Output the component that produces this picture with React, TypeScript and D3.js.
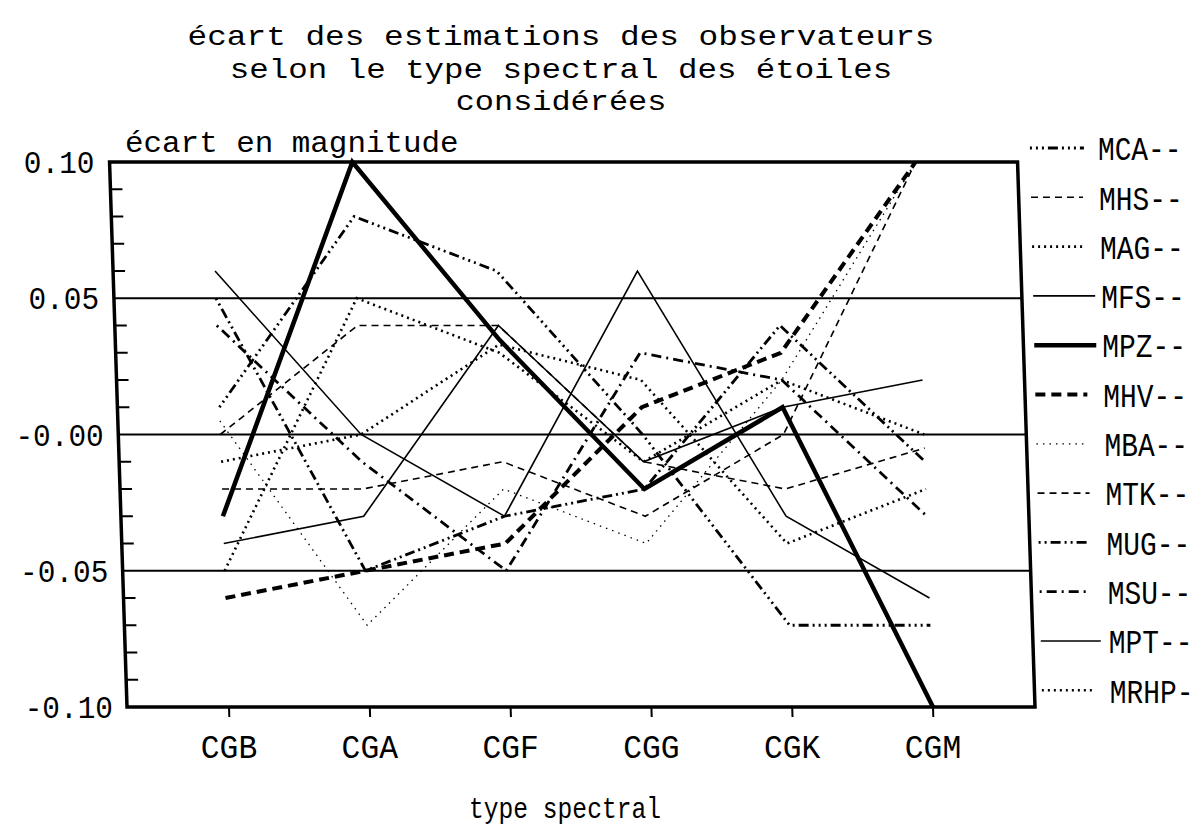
import React from "react";
import * as d3 from "d3";

// categories (spectral types) and y ticks
const categories = ["CGB", "CGA", "CGF", "CGG", "CGK", "CGM"];
const yTickValues = [0.1, 0.05, 0, -0.05, -0.1];
const yTickLabels = ["0.10", "0.05", "-0.00", "-0.05", "-0.10"];
const gridValues = [0.05, 0, -0.05];
const minorTicks = [0.09, 0.08, 0.07, 0.06, 0.04, 0.03, 0.02, 0.01, -0.01, -0.02, -0.03, -0.04, -0.06, -0.07, -0.08, -0.09];

// observers
const MCA = [0.01, 0.08, 0.06, 0.0, -0.07, -0.07];
const MHS = [0.0, 0.04, 0.04, -0.01, -0.02, -0.005];
const MAG = [-0.01, 0.0, 0.033, 0.02, -0.04, -0.02];
const MFS = [0.06, 0.0, -0.03, 0.06, -0.03, -0.06];
const MPZ = [-0.03, 0.1, 0.035, -0.02, 0.01, -0.1];
const MHV = [-0.06, -0.05, -0.04, 0.01, 0.03, 0.1];
const MBA = [0.005, -0.07, -0.02, -0.04, 0.02, 0.1];
const MTK = [-0.02, -0.02, -0.01, -0.03, 0.0, 0.1];
const MUG = [0.05, -0.05, -0.03, -0.02, 0.04, -0.01];
const MSU = [0.04, -0.01, -0.05, 0.03, 0.02, -0.03];
const MPT = [-0.04, -0.03, 0.04, -0.01, 0.01, 0.02];
const MRHP = [-0.05, 0.05, 0.03, -0.01, 0.02, 0.0];

const seriesNames = ["MCA", "MHS", "MAG", "MFS", "MPZ", "MHV", "MBA", "MTK", "MUG", "MSU", "MPT", "MRHP"];
const seriesValues = [MCA, MHS, MAG, MFS, MPZ, MHV, MBA, MTK, MUG, MSU, MPT, MRHP];

// line styles (plotter pens)
const styles: { [k: string]: { w: number; dash: string; len: number } } = {
  MCA: { w: 2.8, dash: "2 4 2 4 2 4 10 4", len: 54 },
  MHS: { w: 1.6, dash: "7 5", len: 52 },
  MAG: { w: 2.6, dash: "2 4", len: 52 },
  MFS: { w: 1.6, dash: "", len: 62 },
  MPZ: { w: 4.5, dash: "", len: 62 },
  MHV: { w: 4, dash: "10 6", len: 52 },
  MBA: { w: 1.3, dash: "1.5 5", len: 52 },
  MTK: { w: 1.6, dash: "7 5", len: 52 },
  MUG: { w: 2.8, dash: "2 4 2 4 10 4", len: 52 },
  MSU: { w: 2.8, dash: "2 5 10 5", len: 50 },
  MPT: { w: 1.6, dash: "", len: 60 },
  MRHP: { w: 2.6, dash: "2 4", len: 50 },
};

const FONT = "'Liberation Mono', 'DejaVu Sans Mono', monospace";

// narrow plotter-style text: natural width scaled horizontally
function PlotText(props: { x: number; y: number; size: number; sx: number; anchor?: string; dy?: string; children: string }) {
  const { x, y, size, sx, anchor, dy, children } = props;
  return (
    <text
      transform={`translate(${x},${y}) scale(${sx},1)`}
      fontSize={size}
      textAnchor={anchor || "start"}
      dy={dy}
      fill="#000"
      fontFamily={FONT}
    >
      {children}
    </text>
  );
}

export default function App() {
  const width = 1199;
  const height = 827;
  const left = 127;
  const right = 1035;
  const top = 162;
  const bottom = 707;
  const k = 0.032; // scan skew

  const x = d3.scalePoint<string>().domain(categories).range([229, 933]);
  const y = d3.scaleLinear().domain([-0.1, 0.1]).range([bottom, top]);

  const line = d3
    .line<number>()
    .x((d, i) => x(categories[i]) as number)
    .y((d) => y(d));

  const legendY = (i: number) => 148 + i * 49.3;

  return (
    <svg width={width} height={height} style={{ display: "block", position: "absolute", left: 0, top: 0 }}>
      <rect width={width} height={height} fill="#fff" />

      <PlotText x={561} y={45} size={28} sx={1.17} anchor="middle">
        écart des estimations des observateurs
      </PlotText>
      <PlotText x={561} y={78} size={28} sx={1.16} anchor="middle">
        selon le type spectral des étoiles
      </PlotText>
      <PlotText x={561} y={110} size={28} sx={1.14} anchor="middle">
        considérées
      </PlotText>
      <PlotText x={125} y={152} size={30} sx={1.03}>
        écart en magnitude
      </PlotText>
      <PlotText x={565} y={818} size={30} sx={0.82} anchor="middle">
        type spectral
      </PlotText>

      <g transform={`matrix(1,0,${k},1,${-k * bottom},0)`} fill="none" stroke="#000">
        {gridValues.map((v) => (
          <line key={v} x1={left} x2={right} y1={y(v)} y2={y(v)} strokeWidth={2} />
        ))}
        {minorTicks.map((v) => (
          <line key={v} x1={left} x2={left + 12} y1={y(v)} y2={y(v)} strokeWidth={2} />
        ))}
        {categories.map((c) => (
          <line key={c} x1={x(c)} x2={x(c)} y1={bottom} y2={bottom + 10} strokeWidth={2} />
        ))}
        <rect x={left} y={top} width={right - left} height={bottom - top} strokeWidth={3.5} />
        {seriesNames.map((name, i) => {
          const s = styles[name];
          return (
            <path
              key={name}
              d={line(seriesValues[i]) as string}
              strokeWidth={s.w}
              strokeDasharray={s.dash || undefined}
              strokeLinejoin="miter"
            />
          );
        })}
      </g>

      {yTickValues.map((v, i) => (
        <PlotText key={v} x={113 + 0.034 * (y(v) - bottom)} y={y(v)} dy="0.35em" size={32} sx={0.92} anchor="end">
          {yTickLabels[i]}
        </PlotText>
      ))}
      {categories.map((c) => (
        <PlotText key={c} x={x(c) as number} y={758} size={33} sx={0.95} anchor="middle">
          {c}
        </PlotText>
      ))}

      <g>
        {seriesNames.map((name, i) => {
          const s = styles[name];
          const ly = legendY(i);
          const x0 = 1031 + 0.022 * (ly - 197);
          const label = (name + "--").slice(0, 5);
          return (
            <g key={name}>
              <line
                x1={x0}
                x2={x0 + s.len}
                y1={ly}
                y2={ly}
                stroke="#000"
                strokeWidth={s.w}
                strokeDasharray={s.dash || undefined}
              />
              <PlotText x={x0 + 68} y={ly} dy="0.36em" size={34} sx={0.82}>
                {label}
              </PlotText>
            </g>
          );
        })}
      </g>
    </svg>
  );
}
